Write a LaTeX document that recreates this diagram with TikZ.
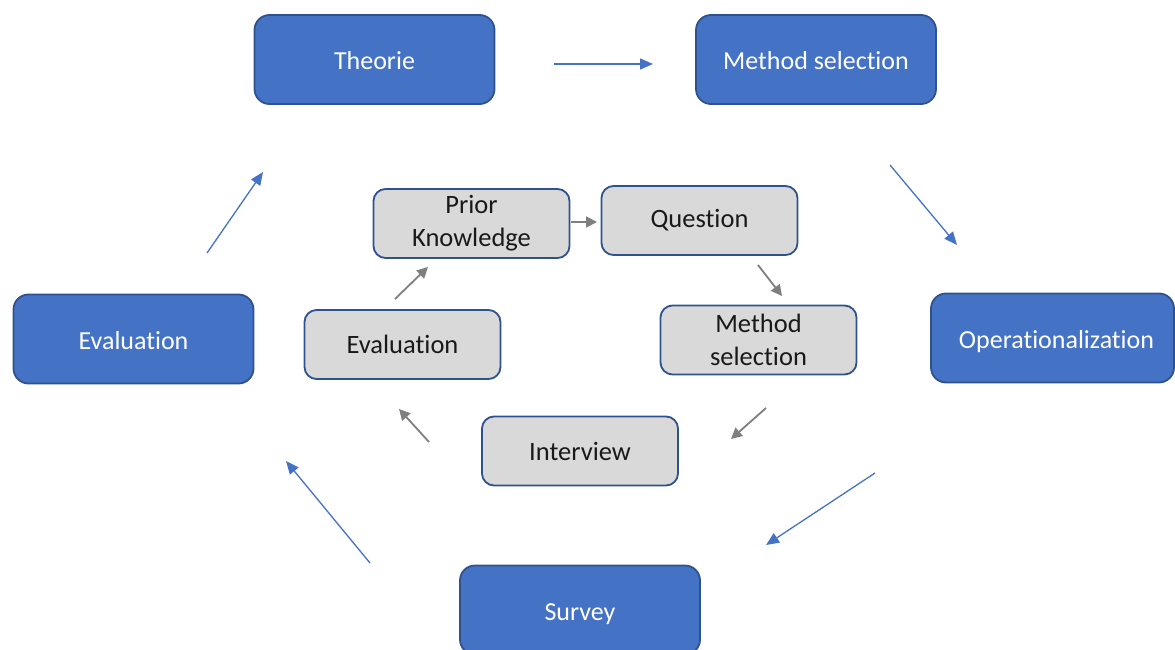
\documentclass[tikz,border=0pt]{standalone}
\usepackage{fontspec}
\setmainfont[Ligatures=NoCommon]{Carlito}
\usetikzlibrary{arrows.meta}
\definecolor{boxblue}{HTML}{4472C4}
\definecolor{edgeblue}{HTML}{2F528F}
\definecolor{boxgray}{HTML}{D9D9D9}
\definecolor{arrgray}{HTML}{7F7F7F}
\tikzset{
  outer/.style={draw=edgeblue, line width=1.8pt, fill=boxblue, rounded corners=15pt,
    minimum width=240pt, minimum height=89pt, text=white, font=\fontsize{26}{31}\selectfont,
    inner sep=0pt, text height=22pt, text depth=1pt},
  inner/.style={draw=edgeblue, line width=1.8pt, fill=boxgray, rounded corners=12pt,
    minimum width=196pt, minimum height=69pt, text=black!90, font=\fontsize{26.5}{33}\selectfont, align=center, inner sep=0pt},
  bluearrow/.style={draw=boxblue, line width=1.3pt, -{Triangle[length=13pt,width=11pt]}},
  grayarrow/.style={draw=arrgray, line width=1.8pt, -{Triangle[length=11pt,width=11pt]}},
}
\begin{document}
\begin{tikzpicture}[x=1pt,y=-1pt]
\clip (0,0) rectangle (1175,650);
\useasboundingbox (0,0) rectangle (1175,650);
% outer cycle
\node[outer] (theorie) at (374.5,59.5) {Theorie};
\node[outer] (msel) at (816,59.5) {Method selection};
\node[outer, minimum width=243pt, text width=243pt, align=center] (oper) at (1052.5,338) {\hspace*{8pt}Operationalization};
\node[outer] (survey) at (580,610) {Survey};
\node[outer] (evalo) at (133.5,339) {Evaluation};
% inner cycle
\node[inner] (prior) at (471.5,223.5) {Prior\\Knowledge};
\node[inner] (question) at (699.5,220.5) {Question};
\node[inner] (mseli) at (758.5,340) {Method\\selection};
\node[inner] (interview) at (580,451) {Interview};
\node[inner] (evali) at (402.5,344.5) {Evaluation};
% free arrow ends
\coordinate (a1s) at (554,64);  \coordinate (a1e) at (653,64);
\coordinate (a2s) at (890,165); \coordinate (a2e) at (957,245);
\coordinate (a3s) at (875,473); \coordinate (a3e) at (766,545);
\coordinate (a4s) at (370,563); \coordinate (a4e) at (286,461);
\coordinate (a5s) at (207,253); \coordinate (a5e) at (263,172);
\draw[bluearrow] (a1s) -- (a1e);
\draw[bluearrow] (a2s) -- (a2e);
\draw[bluearrow] (a3s) -- (a3e);
\draw[bluearrow] (a4s) -- (a4e);
\draw[bluearrow] (a5s) -- (a5e);
\coordinate (b1s) at (571,222); \coordinate (b1e) at (597,222);
\coordinate (b2s) at (758,265); \coordinate (b2e) at (782,296);
\coordinate (b3s) at (766,408); \coordinate (b3e) at (731,439);
\coordinate (b4s) at (429,442); \coordinate (b4e) at (399,409);
\coordinate (b5s) at (395,299); \coordinate (b5e) at (428,267);
\draw[grayarrow] (b1s) -- (b1e);
\draw[grayarrow] (b2s) -- (b2e);
\draw[grayarrow] (b3s) -- (b3e);
\draw[grayarrow] (b4s) -- (b4e);
\draw[grayarrow] (b5s) -- (b5e);
\end{tikzpicture}
\end{document}
